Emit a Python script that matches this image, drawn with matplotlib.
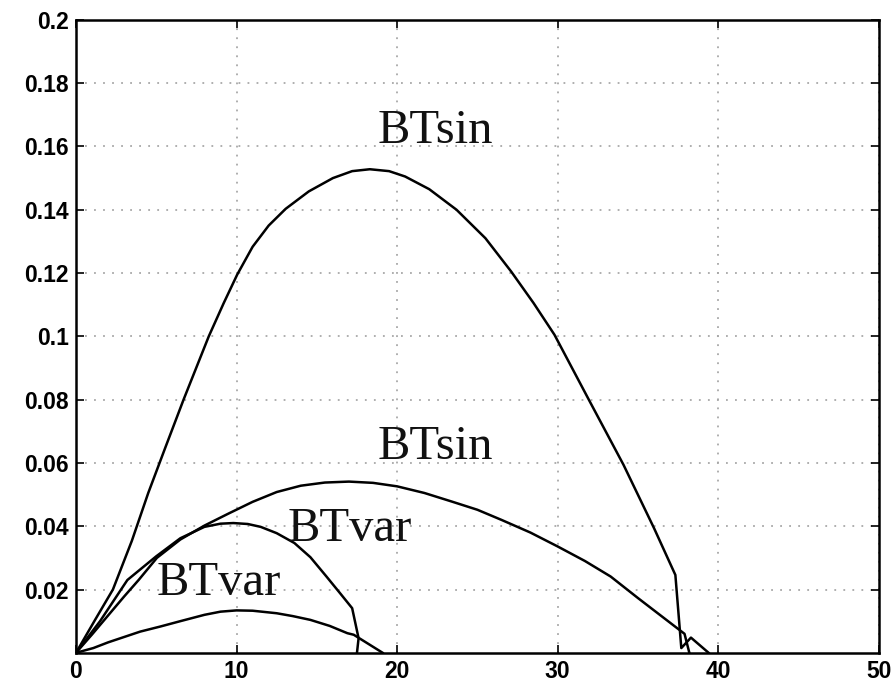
import matplotlib.pyplot as plt
import numpy as np

plt.rcParams['font.family'] = 'sans-serif'
plt.rcParams['font.sans-serif'] = ['Liberation Sans', 'DejaVu Sans']

# curves (x, y)
bt_sin_big_x = [0, 1.2, 2.3, 3.48, 4.5, 5.56, 6.7, 8.27, 9.2, 10.04, 11.0, 12.0, 13.06,
                14.5, 16.0, 17.2, 18.3, 19.5, 20.5, 22.0, 23.7, 25.5, 27.1, 28.5, 29.8,
                32.0, 34.1, 36.0, 37.33, 37.7, 38.3, 39.4]
bt_sin_big_y = [0, 0.0105, 0.0200, 0.0354, 0.0505, 0.0648, 0.0800, 0.1000, 0.1105,
                0.1195, 0.1283, 0.1350, 0.1403, 0.1458, 0.1500, 0.1522, 0.1528, 0.1522,
                0.1505, 0.1465, 0.1400, 0.1310, 0.1205, 0.1105, 0.1005, 0.0794, 0.0594,
                0.0394, 0.0246, 0.0015, 0.0048, 0.0]

bt_sin_small_x = [0, 1.0, 2.0, 3.0, 3.9, 5.04, 6.5, 8.0, 9.5, 11.0, 12.5, 14.0, 15.5,
                  17.0, 18.5, 20.0, 21.7, 23.4, 25.0, 26.5, 28.3, 30.0, 31.7, 33.3,
                  35.0, 37.9, 38.2]
bt_sin_small_y = [0, 0.0058, 0.0118, 0.0178, 0.0230, 0.0300, 0.0358, 0.0402, 0.0440,
                  0.0477, 0.0508, 0.0528, 0.0538, 0.0541, 0.0537, 0.0526, 0.0505,
                  0.0478, 0.0452, 0.0420, 0.0380, 0.0336, 0.0290, 0.0241, 0.0173,
                  0.0060, 0.0]

bt_var_big_x = [0, 1.5, 3.2, 5.0, 6.5, 8.0, 9.0, 9.8, 10.7, 11.5, 12.5, 13.6, 14.6,
                15.6, 16.5, 17.2, 17.6, 17.5]
bt_var_big_y = [0, 0.0100, 0.0230, 0.0305, 0.0362, 0.0398, 0.0408, 0.0410, 0.0407,
                0.0398, 0.0378, 0.0347, 0.0302, 0.0241, 0.0185, 0.0141, 0.0046, 0.0]

bt_var_small_x = [0, 1.08, 2.0, 3.0, 4.0, 5.25, 6.5, 8.0, 9.0, 10.0, 11.0, 12.5, 13.5,
                  14.6, 15.8, 16.9, 17.3, 19.1]
bt_var_small_y = [0, 0.0015, 0.0033, 0.0050, 0.0067, 0.0083, 0.0100, 0.0120, 0.0130,
                  0.0134, 0.0133, 0.0125, 0.0116, 0.0104, 0.0085, 0.0062, 0.0057, 0.0]

labels = ['BTsin', 'BTsin', 'BTvar', 'BTvar']
label_x = [18.8, 18.8, 13.2, 5.0]
label_y = [0.161, 0.0613, 0.0352, 0.0183]

x_ticks = [0, 10, 20, 30, 40, 50]
y_ticks = [0.02, 0.04, 0.06, 0.08, 0.1, 0.12, 0.14, 0.16, 0.18, 0.2]
y_tick_labels = ['0.02', '0.04', '0.06', '0.08', '0.1', '0.12', '0.14', '0.16', '0.18', '0.2']

fig = plt.figure(figsize=(8.94, 6.85), dpi=100)
ax = fig.add_axes([0.085, 0.047, 0.898, 0.924])

for xs, ys in [(bt_sin_big_x, bt_sin_big_y), (bt_sin_small_x, bt_sin_small_y),
               (bt_var_big_x, bt_var_big_y), (bt_var_small_x, bt_var_small_y)]:
    ax.plot(xs, ys, color='black', linewidth=1.8, solid_joinstyle='round')

for txt, lx, ly in zip(labels, label_x, label_y):
    ax.text(lx, ly, txt, fontsize=35, family='Liberation Serif',
            ha='left', va='baseline', color='#111111')

ax.set_xlim(0, 50)
ax.set_ylim(0, 0.2)
ax.set_xticks(x_ticks)
ax.set_xticklabels([str(t) for t in x_ticks])
ax.set_yticks(y_ticks)
ax.set_yticklabels(y_tick_labels)
ax.grid(True, linestyle=(0, (1, 4)), color='#a8a8a8', linewidth=1.3)
ax.set_axisbelow(True)
ax.tick_params(direction='in', length=6, width=1.2, top=True, right=True,
               labelsize=16.5, pad=5)
for lab in ax.get_xticklabels() + ax.get_yticklabels():
    lab.set_fontweight('bold')
for sp in ax.spines.values():
    sp.set_linewidth(1.8)

plt.savefig('out.png', dpi=100)
